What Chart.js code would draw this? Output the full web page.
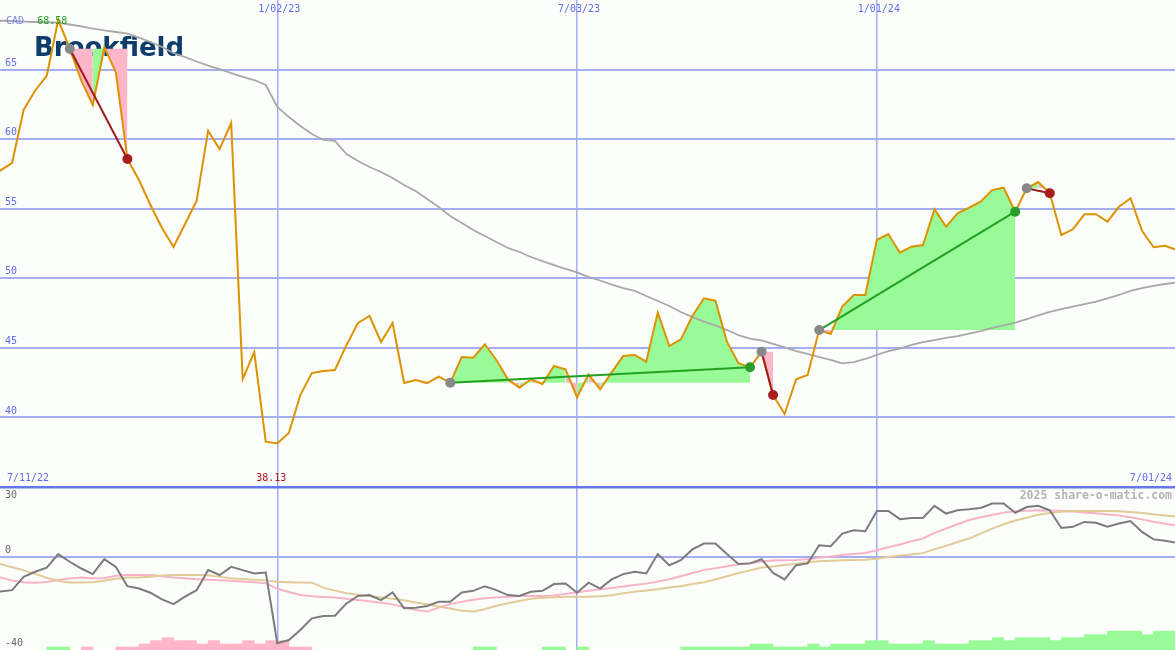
<!DOCTYPE html>
<html>
<head>
<meta charset="utf-8">
<title>Brookfield</title>
<script src="https://cdn.jsdelivr.net/npm/chart.js@4.4.1/dist/chart.umd.min.js"></script>
<style>
  html, body { margin: 0; padding: 0; background: #fcfefc; }
  #wrap { width: 1175px; height: 650px; position: relative; }
  canvas { background: #fcfefc; }
</style>
</head>
<body>
<div id="wrap"><canvas id="chart"></canvas></div>
<script>
// weekly closes, week 0 = 7/11/22
var price = [57.2, 57.75, 58.3, 62.1, 63.5, 64.55, 68.58, 66.5, 64.2, 62.45,
  66.6, 64.8, 58.57, 57.06, 55.27, 53.61, 52.25, 53.9, 55.55, 60.61,
  59.29, 61.16, 42.76, 44.7, 38.26, 38.13, 38.88, 41.61, 43.19, 43.34,
  43.41, 45.2, 46.79, 47.29, 45.42, 46.79, 42.47, 42.69, 42.47, 42.93,
  42.5, 44.34, 44.29, 45.26, 44.13, 42.74, 42.14, 42.74, 42.4, 43.7,
  43.46, 41.45, 43.1, 42.02, 43.24, 44.41, 44.49, 44.01, 47.53, 45.13,
  45.61, 47.29, 48.56, 48.39, 45.44, 43.89, 43.6, 44.72, 41.61, 40.25,
  42.74, 43.05, 46.28, 46.0, 47.96, 48.8, 48.8, 52.75, 53.18, 51.84,
  52.27, 52.39, 54.96, 53.71, 54.67, 55.07, 55.5, 56.34, 56.51, 54.79,
  56.47, 56.92, 56.11, 53.11, 53.52, 54.6, 54.6, 54.07, 55.14, 55.75,
  53.42, 52.23, 52.34, 52.03];

var movingAvg = [68.52, 68.51, 68.49, 68.45, 68.42, 68.4, 68.37, 68.24, 68.1, 67.95,
  67.81, 67.7, 67.59, 67.3, 66.98, 66.62, 66.19, 65.9, 65.58, 65.29,
  65.04, 64.75, 64.47, 64.25, 63.89, 62.31, 61.59, 60.94, 60.37, 59.94,
  59.87, 58.93, 58.43, 58.0, 57.64, 57.21, 56.7, 56.27, 55.7, 55.12,
  54.48, 53.97, 53.47, 53.04, 52.61, 52.18, 51.89, 51.53, 51.24, 50.95,
  50.67, 50.42, 50.09, 49.84, 49.55, 49.3, 49.09, 48.73, 48.37, 48.01,
  47.58, 47.22, 46.89, 46.61, 46.28, 45.92, 45.67, 45.53, 45.28, 45.03,
  44.77, 44.56, 44.34, 44.13, 43.88, 43.98, 44.2, 44.49, 44.77, 44.95,
  45.21, 45.42, 45.56, 45.71, 45.85, 46.03, 46.21, 46.43, 46.61, 46.82,
  47.07, 47.33, 47.58, 47.79, 47.97, 48.15, 48.33, 48.55, 48.8, 49.09,
  49.3, 49.45, 49.59, 49.7];

// lower panel
var oscGrey = [-15.2, -14.9, -14.3, -8.6, -6.4, -4.6, 1.2, -2.1, -5.0, -7.4,
  -1.0, -4.3, -12.6, -13.6, -15.4, -18.3, -20.3, -17.1, -14.3, -5.7,
  -7.8, -4.3, -5.7, -7.1, -6.7, -37.1, -35.7, -31.4, -26.4, -25.4,
  -25.3, -20.0, -16.8, -16.4, -18.6, -15.3, -22.1, -21.9, -21.1, -19.3,
  -19.3, -15.3, -14.6, -12.6, -14.3, -16.4, -16.8, -15.0, -14.6, -11.7,
  -11.4, -15.4, -11.1, -13.6, -9.7, -7.4, -6.4, -7.1, 1.2, -3.6,
  -1.4, 3.2, 5.7, 5.7, 1.2, -3.1, -2.8, -1.0, -6.9, -9.7,
  -3.6, -2.8, 5.0, 4.6, 10.0, 11.4, 11.0, 19.7, 19.7, 16.2,
  16.7, 16.7, 21.9, 18.6, 20.0, 20.4, 21.0, 22.9, 22.9, 18.9,
  21.4, 21.9, 20.0, 12.4, 12.9, 15.0, 14.6, 12.9, 14.3, 15.4,
  10.7, 7.5, 6.9, 6.0];

var oscPink = [-8.5, -8.9, -10.2, -10.9, -11.1, -10.8, -9.9, -9.3, -8.9, -9.2,
  -9.2, -8.1, -7.8, -7.8, -7.8, -8.3, -8.9, -9.2, -9.6, -9.8,
  -10.0, -10.3, -10.6, -10.9, -11.3, -13.7, -15.1, -16.4, -16.9, -17.2,
  -17.5, -18.0, -18.5, -19.1, -19.7, -20.4, -21.6, -22.8, -23.5, -21.8,
  -20.3, -19.3, -18.4, -17.8, -17.4, -17.1, -16.8, -16.8, -16.8, -16.6,
  -15.9, -15.2, -14.6, -13.9, -13.4, -12.7, -12.1, -11.5, -10.6, -9.6,
  -8.3, -6.9, -5.7, -4.9, -4.0, -3.2, -2.7, -2.0, -1.6, -1.5,
  -1.4, -1.0, -0.4, 0.2, 0.8, 1.2, 1.7, 2.8, 4.1, 5.3,
  6.7, 7.9, 10.3, 12.2, 14.0, 15.8, 17.0, 18.0, 19.0, 19.6,
  19.8, 20.0, 19.9, 19.8, 19.5, 19.1, 18.7, 18.2, 17.8, 17.0,
  16.1, 15.1, 14.2, 13.5];

var oscTan = [-2.3, -3.1, -4.5, -5.8, -7.3, -9.0, -10.3, -11.0, -11.0, -10.9,
  -10.3, -9.4, -8.9, -8.9, -8.5, -8.0, -7.8, -7.8, -7.8, -7.9,
  -8.6, -9.2, -9.5, -9.8, -10.1, -10.7, -10.9, -11.0, -11.1, -13.2,
  -14.5, -15.6, -16.3, -16.9, -17.4, -18.0, -18.6, -19.6, -20.4, -21.3,
  -22.2, -23.1, -23.5, -22.5, -21.0, -19.9, -19.0, -18.0, -17.6, -17.3,
  -17.1, -17.1, -17.1, -16.9, -16.5, -15.6, -15.0, -14.4, -13.9, -13.2,
  -12.6, -11.7, -10.9, -9.7, -8.3, -6.9, -5.8, -4.6, -4.1, -3.5,
  -3.0, -2.3, -1.9, -1.7, -1.5, -1.3, -1.2, -0.8, -0.1, 0.6,
  1.0, 1.6, 3.3, 4.7, 6.4, 7.9, 10.0, 12.1, 14.0, 15.6,
  16.8, 18.1, 18.8, 19.4, 19.7, 19.7, 19.7, 19.7, 19.6, 19.3,
  18.8, 18.3, 17.8, 17.3];

// bar heights above the panel floor, green > 0, pink < 0
var volBars = [0, 0, 0, 0, 0, 1.3, 1.3, 0, -1.3, 0,
  0, -1.3, -1.3, -2.6, -4, -5.3, -4, -4, -2.6, -4,
  -2.6, -2.6, -4, -2.6, -4, -4, -1.3, -1.3, 0, 0,
  0, 0, 0, 0, 0, 0, 0, 0, 0, 0,
  0, 0, 1.3, 1.3, 0, 0, 0, 0, 1.3, 1.3,
  0, 1.3, 0, 0, 0, 0, 0, 0, 0, 0,
  1.3, 1.3, 1.3, 1.3, 1.3, 1.3, 2.6, 2.6, 1.3, 1.3,
  1.3, 2.6, 1.3, 2.6, 2.6, 2.6, 4, 4, 2.6, 2.6,
  2.6, 4, 2.6, 2.6, 2.6, 4, 4, 5.3, 4, 5.3,
  5.3, 5.3, 4, 5.3, 5.3, 6.6, 6.6, 8.1, 8.1, 8.1,
  6.6, 8.1, 8.1, 0];

var tradeEntry = [7, 40, 67, 72, 90];
var tradeExit = [12, 66, 68, 89, 92];

var priceTicks = [40, 45, 50, 55, 60, 65];
var oscTicks = [-40, 0, 30];
var dateTickWeeks = [25, 51, 77];
var dateTickLabels = ['1/02/23', '7/03/23', '1/01/24'];
var rangeLabels = ['7/11/22', '7/01/24'];
var currency = 'CAD';
var company = 'Brookfield';
var credit = '2025 share-o-matic.com';

var GREEN = '#98fb98', PINK = '#ffb6c8';
var MONO = '"DejaVu Sans Mono", monospace';

function pts(arr) {
  return arr.map(function (v, i) { return {x: i, y: v}; });
}

var datasets = [];

datasets.push({
  data: pts(price), yAxisID: 'yPrice', order: 2,
  borderColor: '#dd9200', borderWidth: 2, pointRadius: 0, tension: 0
});
datasets.push({
  data: pts(movingAvg), yAxisID: 'yPrice', order: 3,
  borderColor: '#a8a8a8', borderWidth: 1.8, pointRadius: 0
});

tradeEntry.forEach(function (e, t) {
  var x = tradeExit[t];
  var level = price[e];
  var seg = [];
  for (var i = e; i <= x; i++) seg.push({x: i, y: price[i]});
  datasets.push({
    data: seg, yAxisID: 'yPrice', order: 4,
    borderWidth: 0, borderColor: 'rgba(0,0,0,0)', pointRadius: 0,
    backgroundColor: GREEN,
    fill: {target: {value: level}},
    segment: {
      backgroundColor: function (ctx) { return ctx.p1.parsed.y >= level ? GREEN : PINK; }
    }
  });
  datasets.push({
    data: [{x: e, y: level}, {x: x, y: price[x]}], yAxisID: 'yPrice', order: 1,
    borderColor: price[x] > level ? '#22a022' : '#a01c1c', borderWidth: 2, pointRadius: 0
  });
});

datasets.push({
  data: tradeEntry.map(function (e) { return {x: e, y: price[e]}; }),
  yAxisID: 'yPrice', order: 0, showLine: false,
  pointRadius: 5, pointHoverRadius: 5, pointBorderWidth: 0,
  pointBackgroundColor: '#888888'
});
datasets.push({
  data: tradeExit.map(function (x) { return {x: x, y: price[x]}; }),
  yAxisID: 'yPrice', order: 0, showLine: false,
  pointRadius: 5, pointHoverRadius: 5, pointBorderWidth: 0,
  pointBackgroundColor: tradeExit.map(function (x, t) {
    return price[x] > price[tradeEntry[t]] ? '#2a9d2a' : '#a81c1c';
  })
});

datasets.push({
  data: pts(oscTan), yAxisID: 'yOsc', order: 3,
  borderColor: '#e3cb98', borderWidth: 2, pointRadius: 0
});
datasets.push({
  data: pts(oscPink), yAxisID: 'yOsc', order: 3,
  borderColor: '#f9b3c8', borderWidth: 2, pointRadius: 0
});
datasets.push({
  data: pts(oscGrey), yAxisID: 'yOsc', order: 2,
  borderColor: '#7c7c7c', borderWidth: 2, pointRadius: 0
});
datasets.push({
  type: 'bar', yAxisID: 'yOsc', order: 6,
  data: volBars.map(function (v, i) {
    return {x: i + 0.5, y: v === 0 ? null : [-40, -40 + Math.abs(v)]};
  }),
  backgroundColor: volBars.map(function (v) { return v > 0 ? GREEN : PINK; }),
  borderWidth: 0, barPercentage: 1, categoryPercentage: 1
});

var textPlugin = {
  id: 'texts',
  beforeDatasetsDraw: function (chart) {
    var ctx = chart.ctx, a = chart.chartArea;
    ctx.save();
    ctx.font = 'bold 26px "DejaVu Sans"';
    ctx.fillStyle = '#0e3d6b';
    ctx.textBaseline = 'alphabetic';
    ctx.textAlign = 'left';
    ctx.fillText(company, a.left + 34, 56);
    ctx.restore();
  },
  afterDatasetsDraw: function (chart) {
    var ctx = chart.ctx, a = chart.chartArea;
    var xs = chart.scales.x, yp = chart.scales.yPrice, yo = chart.scales.yOsc;
    ctx.save();
    ctx.font = '10px ' + MONO;
    ctx.textBaseline = 'middle';

    ctx.fillStyle = '#5f6cf0';
    ctx.textAlign = 'left';
    priceTicks.forEach(function (v) {
      ctx.fillText(String(v), a.left + 5, yp.getPixelForValue(v) - 6.5);
    });
    ctx.textAlign = 'center';
    dateTickWeeks.forEach(function (w, i) {
      ctx.fillText(dateTickLabels[i], xs.getPixelForValue(w) + 2, a.top + 9);
    });
    ctx.textAlign = 'left';
    ctx.fillText(rangeLabels[0], a.left + 7, yp.bottom - 8.5);
    ctx.textAlign = 'right';
    ctx.fillText(rangeLabels[1], a.right - 3, yp.bottom - 8.5);

    ctx.fillStyle = '#7a86e4';
    ctx.textAlign = 'left';
    ctx.fillText(currency, a.left + 6, 21);

    var hi = Math.max.apply(null, price), lo = Math.min.apply(null, price);
    var iHi = price.indexOf(hi), iLo = price.indexOf(lo);
    ctx.textAlign = 'center';
    ctx.fillStyle = '#1f9e1f';
    ctx.fillText(hi.toFixed(2), xs.getPixelForValue(iHi) - 6, yp.getPixelForValue(hi) + 1.5);
    ctx.fillStyle = '#b01515';
    ctx.fillText(lo.toFixed(2), xs.getPixelForValue(iLo) - 6, yp.bottom - 8.5);

    ctx.fillStyle = '#666666';
    ctx.textAlign = 'left';
    oscTicks.forEach(function (v) {
      var y = yo.getPixelForValue(v);
      ctx.fillText(String(v), a.left + 5, v === yo.max ? y + 8.5 : y - 6.5);
    });

    ctx.font = 'bold 11.5px ' + MONO;
    ctx.fillStyle = '#b4b4b4';
    ctx.textAlign = 'right';
    ctx.fillText(credit, a.right - 3, yo.top + 9);
    ctx.restore();
  }
};

new Chart(document.getElementById('chart'), {
  type: 'line',
  data: {datasets: datasets},
  plugins: [textPlugin],
  options: {
    responsive: true,
    maintainAspectRatio: false,
    animation: false,
    events: [],
    layout: {padding: 0, autoPadding: false},
    plugins: {legend: {display: false}, tooltip: {enabled: false}},
    scales: {
      x: {
        type: 'linear', min: 0.95, max: 102.86, offset: false,
        afterBuildTicks: function (axis) {
          axis.ticks = dateTickWeeks.map(function (w) { return {value: w}; });
        },
        ticks: {display: false},
        border: {display: false},
        grid: {color: '#a4aef2', lineWidth: 1.5, drawTicks: false, offset: false}
      },
      yPrice: {
        type: 'linear', position: 'left', stack: 'panels', stackWeight: 487, weight: 1,
        min: 35, max: 70,
        afterBuildTicks: function (axis) {
          axis.ticks = priceTicks.map(function (v) { return {value: v}; });
        },
        ticks: {display: false},
        border: {display: false},
        grid: {color: '#a4aef2', lineWidth: 2, drawTicks: false}
      },
      yOsc: {
        type: 'linear', position: 'left', stack: 'panels', stackWeight: 163, weight: 0,
        min: -40, max: 30,
        afterBuildTicks: function (axis) {
          axis.ticks = oscTicks.map(function (v) { return {value: v}; });
        },
        ticks: {display: false},
        border: {display: false},
        grid: {
          drawTicks: false,
          color: function (c) {
            if (c.tick.value === 30) return '#6677ee';
            if (c.tick.value === -40) return 'rgba(0,0,0,0)';
            return '#a4aef2';
          },
          lineWidth: function (c) { return c.tick.value === 30 ? 2.5 : 2; }
        }
      }
    }
  }
});
</script>
</body>
</html>
